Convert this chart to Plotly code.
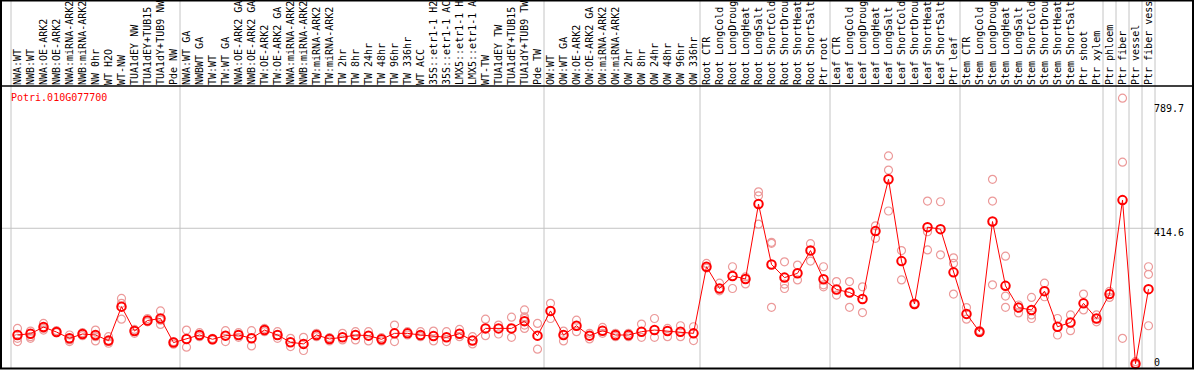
import plotly.graph_objects as go

gene_id = "Potri.010G077700"

labels = [
    "NWA:WT", "NWB:WT", "NWA:OE-ARK2", "NWB:OE-ARK2", "NWA:miRNA-ARK2", "NWB:miRNA-ARK2",
    "NW 0hr", "WT H2O", "WT-NW", "TUA1dEY NW", "TUA1dEY+TUB15 NW", "TUA1dY+TUB9 NW", "Pde NW",
    "NWA:WT GA", "NWBWT GA", "TW:WT", "TW:WT GA", "NWA:OE-ARK2 GA", "NWB:OE-ARK2 GA",
    "TW:OE-ARK2", "TW:OE-ARK2 GA", "NWA:miRNA-ARK2 GA", "NWB:miRNA-ARK2 GA", "TW:miRNA-ARK2",
    "TW:miRNA-ARK2 GA", "TW 2hr", "TW 8hr", "TW 24hr", "TW 48hr", "TW 96hr", "TW 336hr",
    "WT ACC", "35S::etr1-1 H2O", "35S::etr1-1 ACC", "LMX5::etr1-1 H2O", "LMX5::etr1-1 ACC",
    "WT-TW", "TUA1dEY TW", "TUA1dEY+TUB15 TW", "TUA1dY+TUB9 TW", "Pde TW",
    "OW:WT", "OW:WT GA", "OW:OE-ARK2", "OW:OE-ARK2 GA", "OW:miRNA-ARK2", "OW:miRNA-ARK2 GA",
    "OW 2hr", "OW 8hr", "OW 24hr", "OW 48hr", "OW 96hr", "OW 336hr",
    "Root CTR", "Root LongCold", "Root LongDrought", "Root LongHeat", "Root LongSalt",
    "Root ShortCold", "Root ShortDrought", "Root ShortHeat", "Root ShortSalt", "Ptr root",
    "Leaf CTR", "Leaf LongCold", "Leaf LongDrought", "Leaf LongHeat", "Leaf LongSalt",
    "Leaf ShortCold", "Leaf ShortDrought", "Leaf ShortHeat", "Leaf ShortSalt", "Ptr leaf",
    "Stem CTR", "Stem LongCold", "Stem LongDrought", "Stem LongHeat", "Stem LongSalt",
    "Stem ShortCold", "Stem ShortDrought", "Stem ShortHeat", "Stem ShortSalt", "Ptr shoot",
    "Ptr xylem", "Ptr phloem", "Ptr fiber", "Ptr vessel", "Ptr fiber vessel",
]

means = [
    91, 95, 115, 100, 81, 94, 91, 74, 177, 103, 135, 141, 68,
    79, 91, 78, 89, 91, 81, 106, 91, 69, 64, 91, 79, 84, 91, 89, 78, 96, 96,
    91, 88, 84, 95, 74, 111, 111, 111, 133, 89,
    164, 91, 119, 89, 104, 91, 91, 101, 106, 103, 101, 96,
    298, 232, 270, 261, 488, 305, 265, 278, 347, 260,
    229, 220, 200, 406, 563, 315, 185, 418, 412, 281,
    155, 101, 435, 240, 174, 167, 224, 116, 129, 187,
    141, 215, 500, 4, 230,
]

replicates = [
    [111, 81, 71], [103, 86, 81], [126, 111, 106], [104, 98], [91, 76, 71], [98, 89],
    [106, 86, 73], [86, 71, 66], [202, 187, 139], [108, 96], [141, 131], [164, 136, 123], [71, 63],
    [106, 54], [98, 86], [81, 76], [104, 71], [98, 84], [104, 58], [111, 101], [101, 81],
    [81, 56], [84, 44], [96, 86], [83, 73], [96, 76], [101, 76], [101, 73], [83, 73],
    [121, 71], [101, 91], [101, 86], [103, 73], [101, 71], [108, 86], [86, 64],
    [139, 89], [121, 94], [145, 84], [167, 146, 141, 121, 111], [126, 48],
    [187, 141], [103, 73], [136, 101], [96, 79], [114, 96], [96, 86], [96, 86],
    [124, 84], [141, 84], [111, 86], [119, 86], [116, 74],
    [308, 294], [248, 225], [298, 232], [267, 246], [525, 513, 427], [372, 369, 175],
    [313, 245, 232], [303, 258], [368, 315], [298, 243, 237],
    [253, 212], [253, 175], [237, 159], [422, 384], [634, 591, 467], [347, 258],
    [187, 183], [497, 404, 349], [495, 334], [325, 308, 215],
    [174, 139], [104, 98], [563, 497, 243], [330, 209, 175], [182, 158],
    [205, 152, 141], [248, 207], [141, 91], [152, 104], [215, 167],
    [152, 131], [223, 205], [809, 615, 81], [10, 0], [298, 275, 119],
]

group_sizes = [13, 28, 12, 10, 10, 11, 1, 1, 1, 1]
y_ticks = [0, 414.6, 789.7]
y_tick_text = ["0", "414.6", "789.7"]

# ---- layout geometry (pixels) ----
W, H = 1194, 370
L, R, T, B = 11, 39, 86, 1
PW, PH = W - L - R, H - T - B
Y_RANGE = [-12.1, 846]


def px(p):
    return (p - L) / PW


def py(p):
    return (H - B - p) / PH


n = len(labels)
xs = list(range(n))

rep_x, rep_y = [], []
for i, reps in enumerate(replicates):
    for v in reps:
        rep_x.append(i)
        rep_y.append(v)

FONT = "DejaVu Sans Mono"

fig = go.Figure()
fig.add_trace(go.Scatter(
    x=rep_x, y=rep_y, mode="markers",
    marker=dict(symbol="circle-open", size=8, color="#ec9a9a", line=dict(width=1.2, color="#ec9a9a")),
    hoverinfo="skip", showlegend=False, cliponaxis=False,
))
fig.add_trace(go.Scatter(
    x=xs, y=means, mode="lines+markers",
    line=dict(color="#ff0000", width=1),
    marker=dict(symbol="circle-open", size=8.5, color="#ff0000", line=dict(width=2, color="#ff0000")),
    showlegend=False, cliponaxis=False,
))
# invisible anchor trace so the secondary label axis is drawn
fig.add_trace(go.Scatter(
    x=[xs[0]], y=[y_ticks[0]], mode="markers", marker=dict(opacity=0),
    yaxis="y2", hoverinfo="skip", showlegend=False,
))

shapes = []
# group separators (gray vertical lines through label area and plot)
b = 0
bounds = [0]
for g in group_sizes:
    b += g
    bounds.append(b)
for bd in bounds:
    shapes.append(dict(type="line", xref="paper", yref="paper",
                       x0=bd / n, x1=bd / n, y0=py(369), y1=py(0),
                       line=dict(color="#c4c4c4", width=1), layer="below"))
# gridline at middle tick
shapes.append(dict(type="line", xref="paper", yref="y",
                   x0=px(2), x1=px(1162), y0=y_ticks[1], y1=y_ticks[1],
                   line=dict(color="#c4c4c4", width=1), layer="below"))
# outer black frame
shapes.append(dict(type="rect", xref="paper", yref="paper",
                   x0=px(1), x1=px(1193), y0=py(368.5), y1=py(0.5),
                   line=dict(color="black", width=2)))
# separator between label area and plot
shapes.append(dict(type="line", xref="paper", yref="paper",
                   x0=px(1), x1=px(1193), y0=py(86), y1=py(86),
                   line=dict(color="black", width=1.5)))

tickfont = dict(family=FONT, size=10, color="black")

fig.update_layout(
    width=W, height=H,
    margin=dict(l=L, r=R, t=T, b=B, pad=0, autoexpand=False),
    paper_bgcolor="white", plot_bgcolor="rgba(0,0,0,0)",
    showlegend=False,
    shapes=shapes,
    annotations=[dict(text=gene_id, xref="paper", yref="paper", x=px(9), y=py(97),
                      xanchor="left", yanchor="middle", showarrow=False,
                      font=dict(family=FONT, size=10, color="#ff0000"))],
    xaxis=dict(range=[-0.5, n - 0.5], side="top", tickmode="array", tickvals=xs,
               ticktext=labels, tickangle=-90, ticks="", showgrid=False, zeroline=False,
               showline=False, automargin=False, tickfont=tickfont,
               ticklabelstandoff=0, ticklabeloverflow="allow", fixedrange=True),
    yaxis=dict(range=Y_RANGE, side="right", tickmode="array", tickvals=y_ticks[1:],
               ticktext=y_tick_text[1:], ticks="", showgrid=False, zeroline=False, showline=False,
               automargin=False, tickfont=tickfont, ticklabelstandoff=-2,
               ticklabelshift=4, ticklabeloverflow="allow", fixedrange=True),
    yaxis2=dict(range=Y_RANGE, overlaying="y", side="right", tickmode="array",
                tickvals=y_ticks[:1], ticktext=y_tick_text[:1], ticks="", showgrid=False,
                zeroline=False, showline=False, automargin=False, tickfont=tickfont,
                ticklabelstandoff=-2, ticklabelshift=-3, ticklabeloverflow="allow",
                fixedrange=True),
    hovermode=False,
)

fig.write_html(
    "out.html",
    config={"displayModeBar": False},
    post_script="document.body.style.margin='0px';document.body.style.overflow='hidden';",
)
